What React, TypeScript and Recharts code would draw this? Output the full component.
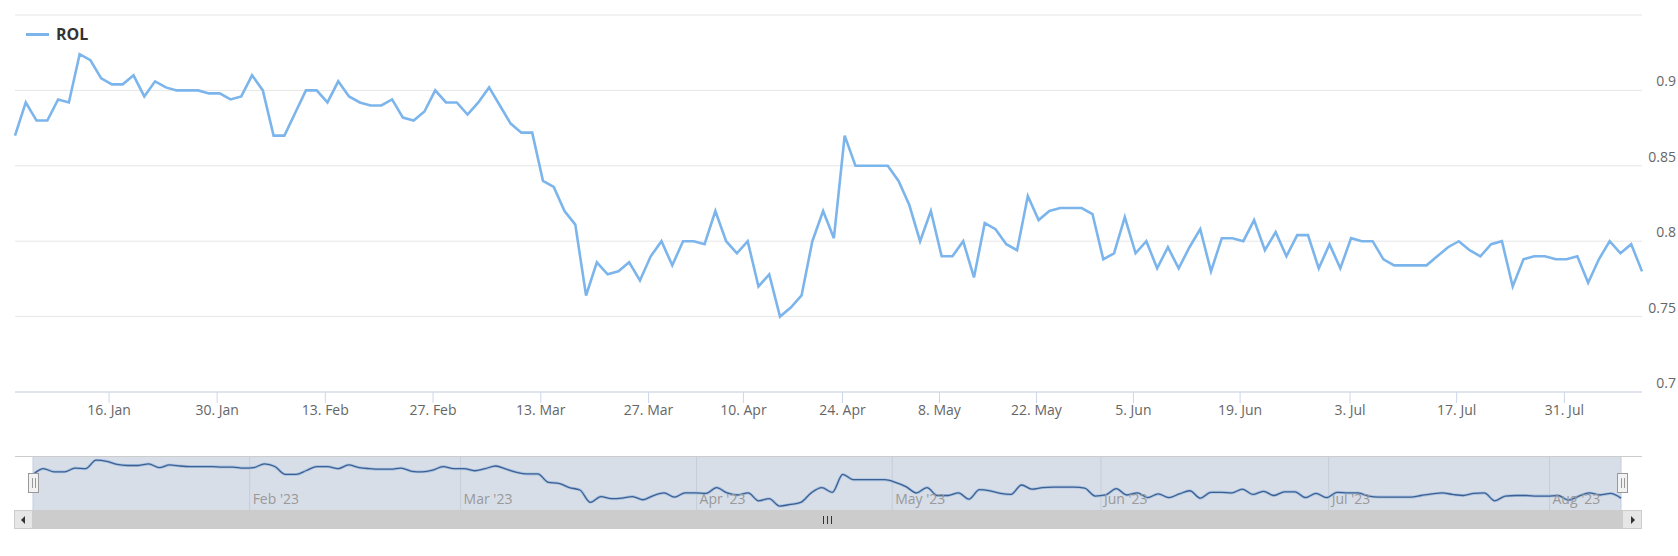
import React from 'react'
import { LineChart, Line, XAxis, YAxis, CartesianGrid } from 'recharts'

// daily ROL values, one per trading day (ordinal axis, gaps removed)
const rolValues = [
  0.87, 0.892, 0.88, 0.88, 0.894, 0.892, 0.924, 0.92, 0.908, 0.904,
  0.904, 0.91, 0.896, 0.906, 0.902, 0.9, 0.9, 0.9, 0.898, 0.898,
  0.894, 0.896, 0.91, 0.9, 0.87, 0.87, 0.885, 0.9, 0.9, 0.892,
  0.906, 0.896, 0.892, 0.89, 0.89, 0.894, 0.882, 0.88, 0.886, 0.9,
  0.892, 0.892, 0.884, 0.892, 0.902, 0.89, 0.878, 0.872, 0.872, 0.84,
  0.836, 0.82, 0.811, 0.764, 0.786, 0.778, 0.78, 0.786, 0.774, 0.79,
  0.8, 0.784, 0.8, 0.8, 0.798, 0.82, 0.8, 0.792, 0.8, 0.77,
  0.778, 0.75, 0.756, 0.764, 0.8, 0.82, 0.802, 0.87, 0.85, 0.85,
  0.85, 0.85, 0.84, 0.824, 0.8, 0.82, 0.79, 0.79, 0.8, 0.776,
  0.812, 0.808, 0.798, 0.794, 0.83, 0.814, 0.82, 0.822, 0.822, 0.822,
  0.818, 0.788, 0.792, 0.816, 0.792, 0.8, 0.782, 0.796, 0.782, 0.796,
  0.808, 0.78, 0.802, 0.802, 0.8, 0.814, 0.794, 0.806, 0.79, 0.804,
  0.804, 0.782, 0.798, 0.782, 0.802, 0.8, 0.8, 0.788, 0.784, 0.784,
  0.784, 0.784, 0.79, 0.796, 0.8, 0.794, 0.79, 0.798, 0.8, 0.77,
  0.788, 0.79, 0.79, 0.788, 0.788, 0.79, 0.7725, 0.788, 0.8, 0.792,
  0.798, 0.78,
]

// week ticks, placed on the ordinal index (fractions fall between trading days)
const weekTickIndex = [8.73, 18.76, 28.8, 38.8, 48.8, 58.8, 67.6, 76.8, 85.8, 94.8, 103.8, 113.7, 123.9, 133.8, 143.8]
const weekTickLabels = ['16. Jan', '30. Jan', '13. Feb', '27. Feb', '13. Mar', '27. Mar', '10. Apr', '24. Apr', '8. May', '22. May', '5. Jun', '19. Jun', '3. Jul', '17. Jul', '31. Jul']

const yTicks = [0.7, 0.75, 0.8, 0.85, 0.9, 0.95]

const monthTickIndex = [20.6, 40.66, 63.1, 81.7, 101.55, 123.2, 144.2]
const monthTickLabels = ["Feb '23", "Mar '23", "Apr '23", "May '23", "Jun '23", "Jul '23", "Aug '23"]

const data = rolValues.map((v, i) => ({ i, rol: v }))
const lastIndex = rolValues.length - 1

const FONT = '"Open Sans", sans-serif'

function WeekTick({ x, y, payload }: any) {
  const k = weekTickIndex.indexOf(payload.value)
  return (
    <text x={x} y={y} dy={9.5} textAnchor="middle" fill="#666" fontSize={14}>
      {weekTickLabels[k]}
    </text>
  )
}

function ValueTick({ y, payload }: any) {
  if (payload.value >= 0.95) return null
  return (
    <text x={1676} y={y - 4} textAnchor="end" fill="#666" fontSize={14}>
      {String(payload.value)}
    </text>
  )
}

function MonthTick({ x, payload }: any) {
  const k = monthTickIndex.indexOf(payload.value)
  return (
    <text x={x + 3} y={48} textAnchor="start" fill="#999" fontSize={14}>
      {monthTickLabels[k]}
    </text>
  )
}

const box = (s: React.CSSProperties): React.CSSProperties => ({ position: 'absolute', boxSizing: 'border-box', ...s })

export default function App() {
  return (
    <div style={{ position: 'absolute', left: 0, top: 0, width: 1678, height: 556, background: '#fff', fontFamily: FONT, overflow: 'hidden' }}>
      <div style={box({ left: 0, top: 0 })}>
        <LineChart width={1678} height={440} data={data} margin={{ top: 15, right: 0, bottom: 0, left: 15 }}>
          <CartesianGrid vertical={false} stroke="#e6e6e6" />
          <XAxis
            dataKey="i"
            type="number"
            domain={[0, lastIndex]}
            ticks={weekTickIndex}
            interval={0}
            height={48}
            stroke="#ccd6eb"
            tickSize={11}
            tick={<WeekTick />}
          />
          <YAxis
            orientation="right"
            domain={[0.7, 0.95]}
            ticks={yTicks}
            width={36}
            axisLine={false}
            tickLine={false}
            tick={<ValueTick />}
          />
          <Line type="linear" dataKey="rol" stroke="#7cb5ec" strokeWidth={2.6} dot={false} isAnimationActive={false} />
        </LineChart>
      </div>

      {/* legend */}
      <div style={box({ left: 26, top: 23, display: 'flex', alignItems: 'center', lineHeight: '22px' })}>
        <span style={{ display: 'inline-block', width: 23, height: 3, background: '#7cb5ec', marginRight: 7 }} />
        <span style={{ fontSize: 16, fontWeight: 700, color: '#333' }}>ROL</span>
      </div>

      {/* navigator */}
      <div style={box({ left: 15, top: 456, width: 1627, height: 54, background: '#fff' })} />
      <div style={box({ left: 0, top: 456 })}>
        <LineChart width={1678} height={60} data={data} margin={{ top: 0, right: 57, bottom: 5, left: 33 }}>
          <CartesianGrid horizontal={false} stroke="#c6cdd8" fill="#d8dee8" fillOpacity={1} />
          <XAxis
            dataKey="i"
            type="number"
            domain={[0, lastIndex]}
            ticks={monthTickIndex}
            interval={0}
            height={1}
            axisLine={false}
            tickLine={false}
            tick={<MonthTick />}
          />
          <YAxis hide domain={[0.735, 0.94]} />
          <Line type="monotone" dataKey="rol" stroke="#a9c4e2" strokeWidth={3} dot={false} isAnimationActive={false} />
          <Line type="monotone" dataKey="rol" stroke="#3d5f92" strokeWidth={1.3} dot={false} isAnimationActive={false} />
        </LineChart>
      </div>
      <div style={box({ left: 15, top: 456, width: 1627, height: 1, background: '#cccccc' })} />

      {/* handles */}
      {[28, 1617].map((l) => (
        <div key={l} style={box({ left: l, top: 473, width: 11, height: 20, background: '#f2f2f2', border: '1px solid #999' })}>
          <div style={box({ left: 3, top: 4, width: 1, height: 10, background: '#999' })} />
          <div style={box({ left: 6, top: 4, width: 1, height: 10, background: '#999' })} />
        </div>
      ))}

      {/* scrollbar */}
      <div style={box({ left: 14, top: 510, width: 1628, height: 19, background: '#f2f2f2' })} />
      <div style={box({ left: 33, top: 510, width: 1589, height: 19, background: '#cccccc' })}>
        {[-4, 0, 4].map((d) => (
          <div key={d} style={box({ left: 794 + d, top: 6, width: 1, height: 8, background: '#333' })} />
        ))}
      </div>
      <div style={box({ left: 14, top: 510, width: 19, height: 19, background: '#e6e6e6', border: '1px solid #cccccc' })}>
        <div style={box({ left: 6, top: 5, width: 0, height: 0, borderTop: '4px solid transparent', borderBottom: '4px solid transparent', borderRight: '4px solid #333' })} />
      </div>
      <div style={box({ left: 1622, top: 510, width: 20, height: 19, background: '#e6e6e6', border: '1px solid #cccccc' })}>
        <div style={box({ left: 8, top: 5, width: 0, height: 0, borderTop: '4px solid transparent', borderBottom: '4px solid transparent', borderLeft: '4px solid #333' })} />
      </div>
    </div>
  )
}
